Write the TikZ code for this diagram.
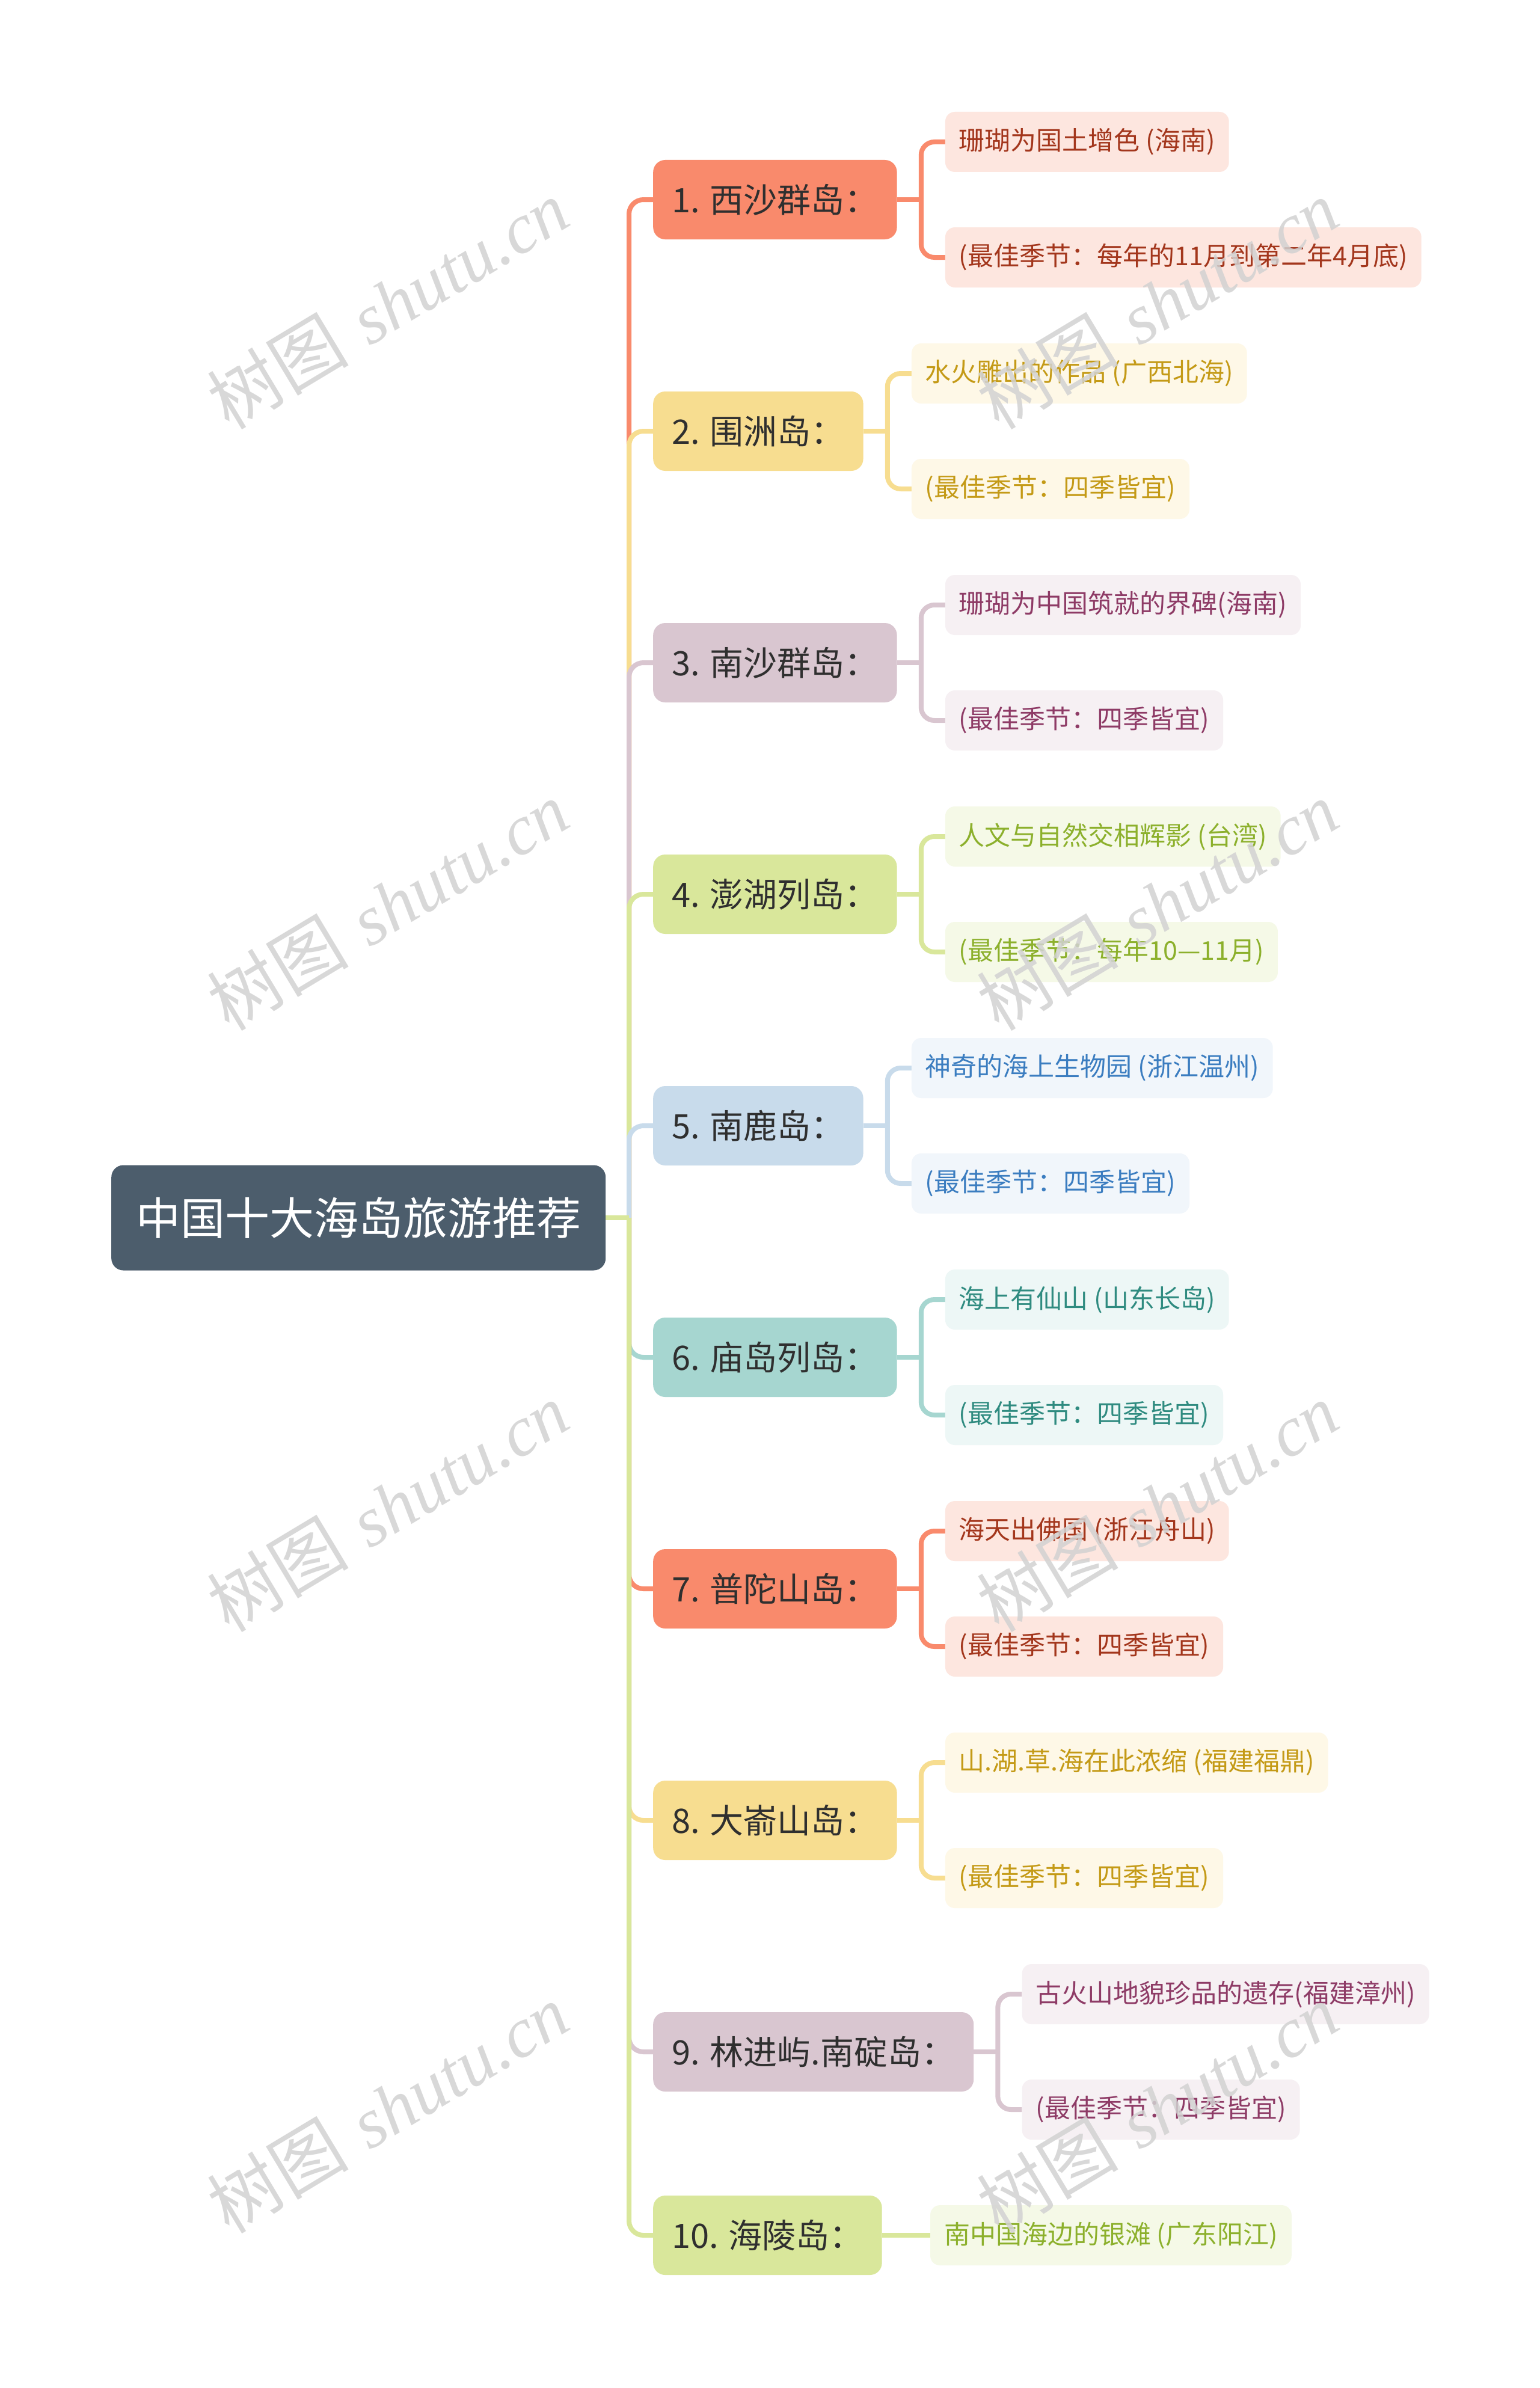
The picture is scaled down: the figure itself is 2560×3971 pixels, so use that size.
\documentclass[tikz,border=0pt]{standalone}
\usepackage{fontspec}
\newfontfamily\cjk{Noto Sans CJK SC}
\newfontfamily\wmserif{Liberation Serif}
\usetikzlibrary{calc,backgrounds}
\definecolor{coral}{HTML}{F98A6C}\definecolor{coralL}{HTML}{FDE6DF}\definecolor{coralT}{HTML}{A3361C}
\definecolor{yell}{HTML}{F7DD90}\definecolor{yellL}{HTML}{FEF8E7}\definecolor{yellT}{HTML}{C49A16}
\definecolor{mauve}{HTML}{D9C6D0}\definecolor{mauveL}{HTML}{F6F0F3}\definecolor{mauveT}{HTML}{8E3B66}
\definecolor{green}{HTML}{D9E79B}\definecolor{greenL}{HTML}{F5F9E7}\definecolor{greenT}{HTML}{8CB02C}
\definecolor{blue}{HTML}{C8DBEB}\definecolor{blueL}{HTML}{F1F6FB}\definecolor{blueT}{HTML}{3B7DC0}
\definecolor{teal}{HTML}{A6D6D0}\definecolor{tealL}{HTML}{EDF7F6}\definecolor{tealT}{HTML}{2F8B80}
\definecolor{rootc}{HTML}{4C5D6C}
\definecolor{textdark}{HTML}{2F2F2F}
\definecolor{wmgrey}{HTML}{D2D2D2}
\newcommand{\isle}[6]{%
  \node[lvone, fill=#3] (n#1) at (1086,#2) {#4};
  \node[leaf, fill=#3L, text=#3T] (n#1a) at ($(n#1.east)+(80,-96)$) {#5};
  \node[leaf, fill=#3L, text=#3T] (n#1b) at ($(n#1.east)+(80,96)$) {#6};
  \coordinate (j#1) at ($(n#1.east)+(40,0)$);
  \begin{pgfonlayer}{background}
    \draw[link, #3] (n#1.east) -- (j#1);
    \draw[link, #3, rounded corners=22] (j#1) |- (n#1a.west);
    \draw[link, #3, rounded corners=22] (j#1) |- (n#1b.west);
  \end{pgfonlayer}
}
\begin{document}
\begin{tikzpicture}[x=1pt,y=-1pt,
  lvone/.style={rounded corners=20, anchor=west, minimum height=132, inner xsep=31, inner ysep=0,
    font=\cjk\fontsize{56}{60}\selectfont, text=textdark},
  leaf/.style={rounded corners=16, anchor=west, minimum height=100, inner xsep=23, inner ysep=0,
    font=\cjk\fontsize{43}{48}\selectfont},
  rootbox/.style={rounded corners=20, anchor=west, minimum height=175, inner xsep=41, inner ysep=0,
    fill=rootc, text=white, font=\cjk\fontsize{74}{80}\selectfont},
  link/.style={line width=8},
  wm/.style={rotate=31, text=wmgrey, opacity=0.85, font=\fontsize{118}{120}\selectfont}
]
\useasboundingbox (0,0) rectangle (2560,3971);
\begin{pgfonlayer}{background}
  \fill[white] (0,0) rectangle (2560,3971);
\end{pgfonlayer}

\node[rootbox] (root) at (185,2025) {中国十大海岛旅游推荐};
\coordinate (j0) at (1046,2025);

\isle{1}{332}{coral}{1. 西沙群岛：}{珊瑚为国土增色 (海南)}{(最佳季节：每年的11月到第二年4月底)}
\isle{2}{717}{yell}{2. 围洲岛：}{水火雕出的作品 (广西北海)}{(最佳季节：四季皆宜)}
\isle{3}{1102}{mauve}{3. 南沙群岛：}{珊瑚为中国筑就的界碑(海南)}{(最佳季节：四季皆宜)}
\isle{4}{1487}{green}{4. 澎湖列岛：}{人文与自然交相辉影 (台湾)}{(最佳季节：每年10—11月)}
\isle{5}{1872}{blue}{5. 南鹿岛：}{神奇的海上生物园 (浙江温州)}{(最佳季节：四季皆宜)}
\isle{6}{2257}{teal}{6. 庙岛列岛：}{海上有仙山 (山东长岛)}{(最佳季节：四季皆宜)}
\isle{7}{2642}{coral}{7. 普陀山岛：}{海天出佛国 (浙江舟山)}{(最佳季节：四季皆宜)}
\isle{8}{3027}{yell}{8. 大嵛山岛：}{山.湖.草.海在此浓缩 (福建福鼎)}{(最佳季节：四季皆宜)}
\isle{9}{3412}{mauve}{9. 林进屿.南碇岛：}{古火山地貌珍品的遗存(福建漳州)}{(最佳季节：四季皆宜)}

\node[lvone, fill=green] (n10) at (1086,3717) {10. 海陵岛：};
\node[leaf, fill=greenL, text=greenT] (n10a) at ($(n10.east)+(80,0)$) {南中国海边的银滩 (广东阳江)};

\begin{pgfonlayer}{background}
  \draw[link, green] (n10.east) -- (n10a.west);
  \draw[link, coral, rounded corners=24] (j0) |- (n1.west);
  \draw[link, yell, rounded corners=24] (j0) |- (n2.west);
  \draw[link, mauve, rounded corners=24] (j0) |- (n3.west);
  \draw[link, green, rounded corners=24] (j0) |- (n4.west);
  \draw[link, blue, rounded corners=24] (j0) |- (n5.west);
  \draw[link, teal, rounded corners=24] (j0) |- (n6.west);
  \draw[link, coral, rounded corners=24] (j0) |- (n7.west);
  \draw[link, yell, rounded corners=24] (j0) |- (n8.west);
  \draw[link, mauve, rounded corners=24] (j0) |- (n9.west);
  \draw[link, green, rounded corners=24] (j0) |- (n10.west);
  \draw[link, green] (root.east) -- (j0);
\end{pgfonlayer}

\foreach \wy in {506,1506,2506,3506}{
  \node[wm] at (645,\wy) {{\cjk 树图} {\wmserif\itshape shutu.cn}};
  \node[wm] at (1925,\wy) {{\cjk 树图} {\wmserif\itshape shutu.cn}};
}
\end{tikzpicture}
\end{document}
